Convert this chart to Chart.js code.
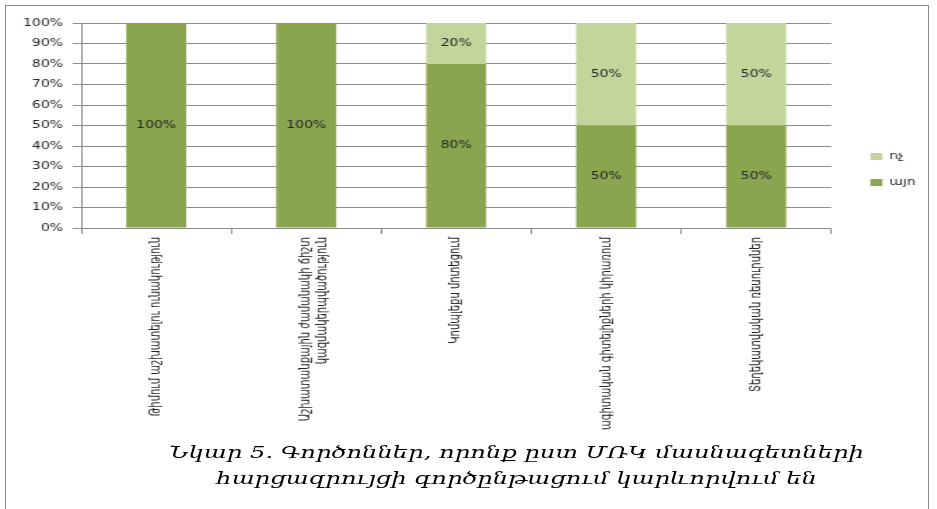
<!DOCTYPE html>
<html>
<head>
<meta charset="utf-8">
<script src="https://cdn.jsdelivr.net/npm/chart.js@4/dist/chart.umd.min.js"></script>
<style>
    html, body { margin: 0; padding: 0; background: #fff; }
    body { width: 937px; height: 509px; overflow: hidden; position: relative; }
    #frame { position: absolute; left: 5px; top: 5px; width: 924px; height: 510px; border: 1px solid #8c8c8c; box-sizing: border-box; }
    /* the source picture is stretched sideways, so the whole chart is drawn narrow and widened */
    #stretch { position: absolute; left: 0; top: 0; width: 669px; height: 509px; transform: scaleX(1.4); transform-origin: 0 0; }
    #chart-box { position: absolute; left: 0; top: 0; width: 669px; height: 430px; }
    #caption { position: absolute; left: 0; width: 738px; top: 439px; text-align: center;
        font-family: "DejaVu Serif", serif; font-style: italic; font-size: 17.3px; line-height: 26px; color: #000; white-space: nowrap; }
</style>
</head>
<body>
<div id="frame"></div>
<div id="stretch">
    <div id="chart-box"><canvas id="factorsChart" width="669" height="430"></canvas></div>
    <div id="caption">Նկար 5. Գործոններ, որոնք ըստ ՄՌԿ մասնագետների<br>հարցազրույցի գործընթացում կարևորվում են</div>
</div>
<script>
const categories = [
    "Թիմում աշխատելու ունակություն",
    ["Աշխատանքային ժամանակի ճիշտ", "կազմակերպվածություն"],
    "Կոմպլեքս մոտեցում",
    "Մասնագիտական գիտելիքների կիրառում",
    "Տեղեկատվական ռեսուրսներ"
];
const yesValues = [100, 100, 80, 50, 50];
const noValues = [0, 0, 20, 50, 50];
const yTicks = [0, 10, 20, 30, 40, 50, 60, 70, 80, 90, 100];

const YES_COLOR = "#8aa54f";
const NO_COLOR = "#c2d69b";
const GRID_COLOR = "#8c8c8c";
const TEXT_COLOR = "#262626";

// prints the percent in the middle of each bar segment
const barLabels = {
    id: "barLabels",
    afterDatasetsDraw(chart) {
        const ctx = chart.ctx;
        ctx.save();
        ctx.font = "10px 'DejaVu Sans'";
        ctx.fillStyle = TEXT_COLOR;
        ctx.textAlign = "center";
        ctx.textBaseline = "middle";
        chart.data.datasets.forEach((ds, i) => {
            const meta = chart.getDatasetMeta(i);
            meta.data.forEach((bar, j) => {
                const v = ds.data[j];
                if (!v) return;
                const p = bar.getCenterPoint();
                ctx.fillText(v + "%", p.x, p.y);
            });
        });
        ctx.restore();
    }
};

// legend sits a bit further away from the plot than chart.js puts it
const legendGap = {
    id: "legendGap",
    afterLayout(chart) {
        chart.legend.left += 12;
        chart.legend.right += 12;
    }
};

new Chart(document.getElementById("factorsChart"), {
    type: "bar",
    data: {
        labels: categories,
        datasets: [
            { label: "այո", data: yesValues, backgroundColor: YES_COLOR, barPercentage: 0.4, categoryPercentage: 1 },
            { label: "ոչ", data: noValues, backgroundColor: NO_COLOR, barPercentage: 0.4, categoryPercentage: 1 }
        ]
    },
    options: {
        responsive: false,
        animation: false,
        layout: { padding: { top: 23, left: 0, right: 17, bottom: 0 } },
        plugins: {
            tooltip: { enabled: false },
            legend: {
                position: "right",
                fullSize: false,
                align: "start",
                reverse: true,
                title: { display: true, text: "", padding: { top: 98, bottom: 0 } },
                labels: {
                    boxWidth: 8.5,
                    boxHeight: 7,
                    padding: 16,
                    color: TEXT_COLOR,
                    font: { family: "DejaVu Sans", size: 10 }
                }
            }
        },
        scales: {
            x: {
                stacked: true,
                grid: { drawOnChartArea: false, drawTicks: true, tickLength: 6, color: GRID_COLOR },
                border: { color: GRID_COLOR },
                ticks: {
                    minRotation: 90,
                    maxRotation: 90,
                    autoSkip: false,
                    padding: 3,
                    color: TEXT_COLOR,
                    font: { family: "DejaVu Sans", size: 10 }
                },
                afterFit: (scale) => { scale.height = 202; }
            },
            y: {
                stacked: true,
                min: 0,
                max: 100,
                afterBuildTicks: (scale) => { scale.ticks = yTicks.map(v => ({ value: v })); },
                grid: { color: GRID_COLOR, tickLength: 6 },
                border: { color: GRID_COLOR },
                ticks: {
                    padding: 7,
                    color: TEXT_COLOR,
                    font: { family: "DejaVu Sans", size: 10 },
                    callback: (v) => v + "%"
                },
                afterFit: (scale) => { scale.width = 58; }
            }
        }
    },
    plugins: [barLabels, legendGap]
});
</script>
</body>
</html>
